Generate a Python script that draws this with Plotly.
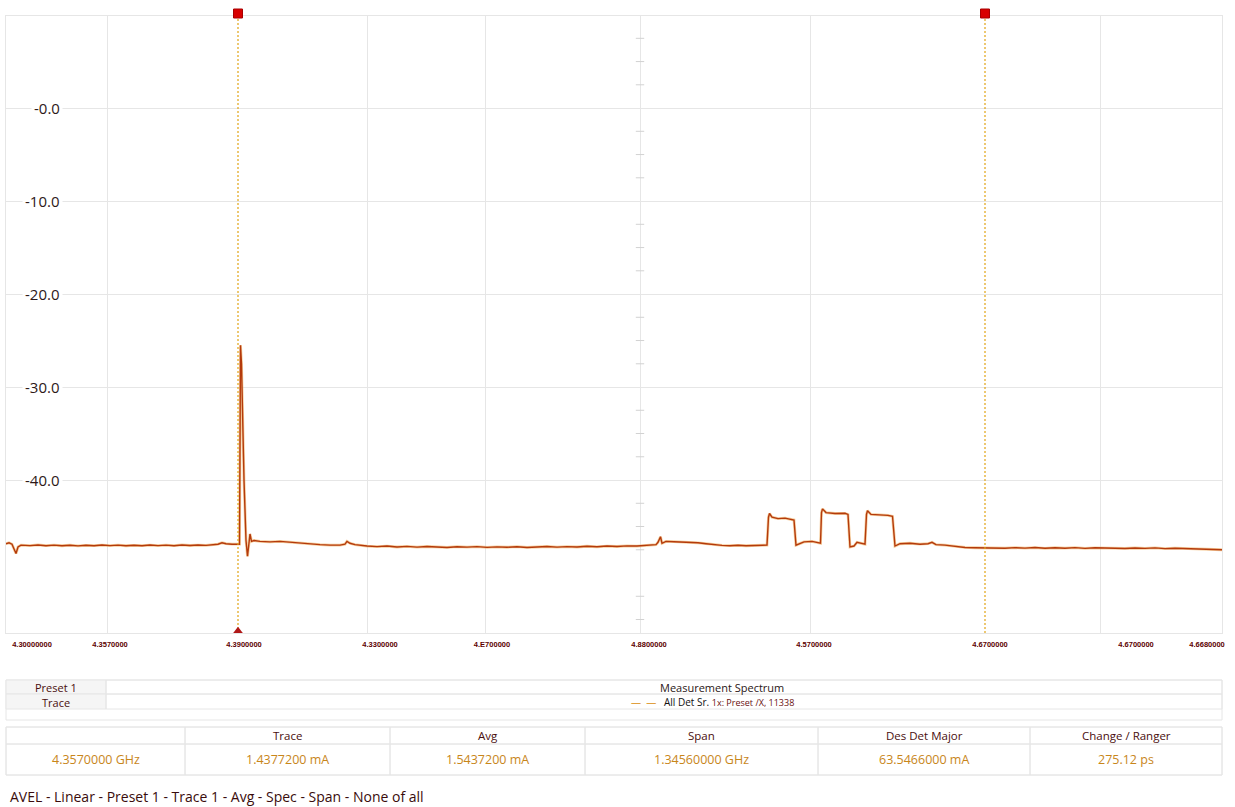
import plotly.graph_objects as go

# ---- spectrum trace (frequency bin, level in dB), segment by segment ----
bins_left = [0, 3, 6, 8, 10, 12, 15,
             24, 32, 40, 48, 56, 64, 72, 80, 88, 96,
             104, 112, 120, 128, 136, 144, 152, 160, 168, 176,
             184, 192, 200, 206, 212, 216, 220, 226, 231, 233]
db_left = [-46.85, -46.75, -46.9, -47.5, -47.9, -47.2, -47.0,
           -47.05, -46.98, -47.06, -47.0, -47.07, -47.01, -47.08, -47.02, -47.06, -46.99,
           -47.05, -47.0, -47.07, -47.02, -47.06, -46.99, -47.05, -47.0, -47.06, -46.98,
           -47.04, -46.99, -47.03, -46.96, -46.9, -46.75, -46.85, -46.9, -46.95, -46.9]

bins_spike = [233.5, 234.5, 235.5, 238, 240, 241.5, 243, 244, 245.5, 248,
              254, 264, 274, 284, 294, 304, 314, 324, 334, 339,
              341, 344, 349]
db_spike = [-46.9, -25.5, -27.5, -40.0, -46.5, -48.2, -47.0, -45.8, -46.6, -46.5,
            -46.6, -46.65, -46.6, -46.7, -46.75, -46.85, -46.95, -47.0, -47.0, -46.9,
            -46.6, -46.8, -46.95]

bins_mid = [361, 371, 381, 391, 401, 411, 421, 431, 441, 451,
            461, 471, 481, 491, 501, 511, 521, 531, 541, 551,
            561, 571, 581, 591, 601, 611, 621, 631, 641]
db_mid = [-47.1, -47.16, -47.1, -47.2, -47.14, -47.22, -47.15, -47.2, -47.25, -47.17,
          -47.22, -47.16, -47.24, -47.19, -47.23, -47.17, -47.25, -47.2, -47.15, -47.22,
          -47.16, -47.2, -47.12, -47.18, -47.1, -47.15, -47.08, -47.1, -47.02]

bins_bursts = [646, 650, 652, 654.5, 656, 660, 668, 676, 684, 692,
               700, 708, 716, 724, 732, 740, 748, 754, 761, 762.5,
               763.5, 766, 772, 779, 786, 788, 790, 794, 798, 806,
               813, 814.5, 815.5, 816.5, 820, 829, 839, 842, 844, 848,
               851, 854, 859, 860.5, 861.5, 865, 874, 882, 886.5, 889,
               894, 904, 914, 922, 926, 930, 939, 949, 959, 969]
db_bursts = [-47.0, -46.95, -46.7, -46.1, -46.8, -46.6, -46.63, -46.66, -46.7, -46.75,
             -46.85, -46.95, -47.03, -47.06, -47.02, -47.07, -47.03, -47.0, -47.0, -44.0,
             -43.6, -44.0, -44.15, -44.1, -44.22, -44.3, -47.0, -46.8, -46.65, -46.6,
             -46.7, -46.8, -43.5, -43.1, -43.5, -43.6, -43.58, -43.7, -47.2, -47.1,
             -46.7, -46.8, -46.9, -43.7, -43.3, -43.7, -43.75, -43.8, -43.9, -47.1,
             -46.85, -46.8, -46.9, -46.85, -46.7, -46.95, -47.0, -47.15, -47.25, -47.28]

bins_right = [979, 989, 999, 1009, 1019, 1029, 1039, 1049, 1059, 1069,
              1079, 1089, 1099, 1109, 1119, 1129, 1139, 1149, 1159, 1169,
              1179, 1189, 1199, 1209, 1216]
db_right = [-47.3, -47.25, -47.33, -47.27, -47.32, -47.26, -47.34, -47.28, -47.33, -47.27,
            -47.35, -47.29, -47.33, -47.3, -47.36, -47.31, -47.35, -47.3, -47.38, -47.33,
            -47.37, -47.41, -47.38, -47.45, -47.5]

freq_bin = bins_left + bins_spike + bins_mid + bins_bursts + bins_right
level_db = db_left + db_spike + db_mid + db_bursts + db_right

# ---- axes ----
x_range = [0, 1216]
y_range = [-56.45, 9.9]
x_tick_bins = [26, 104, 238, 374, 486, 643, 808, 984, 1130, 1201]
x_tick_labels = ["4.30000000", "4.3570000", "4.3900000", "4.3300000", "4.E700000",
                 "4.8800000", "4.5700000", "4.6700000", "4.6700000", "4.6680000"]
x_grid_bins = [101, 361, 479, 804, 1094]
center_bin = 634
y_tick_vals = [0, -10, -20, -30, -40]
y_tick_labels = ["-0.0", "-10.0", "-20.0", "-30.0", "-40.0"]
center_tick_db = [7.5, 5, 2.5, -2.5, -5, -7.5, -12.5, -15, -17.5, -22.5, -25, -27.5,
                  -32.5, -35, -37.5, -42.5, -45, -47.5, -52.5, -55]

# ---- markers ----
marker_bins = [232, 979]
marker_foot_db = -56.25

# ---- readout tables ----
info_labels = ["Preset 1", "Trace"]
info_title = "Measurement Spectrum"
info_trace = "All Det Sr."
info_trace_detail = "1x: Preset /X, 11338"
readout_headers = ["", "Trace", "Avg", "Span", "Des Det Major", "Change / Ranger"]
readout_values = ["4.3570000 GHz", "1.4377200 mA", "1.5437200 mA", "1.34560000 GHz",
                  "63.5466000 mA", "275.12 ps"]
status_line = "AVEL - Linear - Preset 1 - Trace 1 - Avg - Spec - Span - None of all"

W, H = 1235, 807
PL, PR, PT, PB = 6, 1222, 16, 633
GRID = "#e6e6e6"
MAROON = "#4a0e0e"
AMBER = "#c8861a"
FONT = "Open Sans"


def px(x):
    return (x - PL) / (PR - PL)


def py(y):
    return (PB - y) / (PB - PT)


fig = go.Figure()

# center axis tick marks
fig.add_trace(go.Scatter(
    x=[center_bin] * len(center_tick_db), y=center_tick_db, mode="markers",
    marker=dict(symbol="line-ew", size=6, line=dict(color="#d2d2d2", width=1)),
    hoverinfo="skip", showlegend=False))

# spectrum trace: soft amber halo under a rust-red core
fig.add_trace(go.Scatter(
    x=freq_bin, y=level_db, mode="lines",
    line=dict(color="#f0a850", width=2.8), opacity=0.55,
    hoverinfo="skip", showlegend=False))
fig.add_trace(go.Scatter(
    x=freq_bin, y=level_db, mode="lines",
    line=dict(color="#b43a0c", width=1.4),
    showlegend=False))

# marker lines
for mb in marker_bins:
    fig.add_trace(go.Scatter(
        x=[mb, mb], y=y_range, mode="lines",
        line=dict(color="#e2a414", width=1.2, dash="2px,2px"),
        hoverinfo="skip", showlegend=False))

fig.add_trace(go.Scatter(
    x=[marker_bins[0]], y=[marker_foot_db], mode="markers",
    marker=dict(symbol="triangle-up", size=9, color="#b01818"),
    cliponaxis=False, hoverinfo="skip", showlegend=False))

fig.update_xaxes(
    range=x_range, tickmode="array", tickvals=x_tick_bins, ticktext=x_tick_labels,
    showgrid=False, zeroline=False, ticks="", ticklabelstandoff=4,
    tickfont=dict(family="Liberation Sans", size=7.5, color="#5c0000", weight="bold"),
    showline=True, linecolor=GRID, mirror=True,
    minor=dict(tickmode="array", tickvals=x_grid_bins + [center_bin], showgrid=True,
               gridcolor=GRID, gridwidth=1, ticks=""))
fig.update_yaxes(
    range=y_range, tickmode="array", tickvals=y_tick_vals, showticklabels=False,
    showgrid=True, gridcolor=GRID, zeroline=False,
    showline=True, linecolor=GRID, mirror=True)

annotations = []
for v, t in zip(y_tick_vals, y_tick_labels):
    annotations.append(dict(
        x=px(63), xref="paper", y=v, yref="y", text=t, showarrow=False,
        xanchor="right", yanchor="middle", bgcolor="white", borderpad=2,
        font=dict(family=FONT, size=15, color="#2d1818")))

shapes = []

# marker handles above the plot frame
for mb in marker_bins:
    shapes.append(dict(type="rect", xref="x", yref="paper",
                       x0=mb - 4.5, x1=mb + 4.5, y0=py(18), y1=py(9),
                       fillcolor="#d80000", line=dict(color="#a80000", width=1),
                       layer="above"))


def box(x0, y0, x1, y1, fill="rgba(0,0,0,0)", line=GRID):
    shapes.append(dict(type="rect", xref="paper", yref="paper",
                       x0=px(x0), x1=px(x1), y0=py(y1), y1=py(y0),
                       fillcolor=fill, line=dict(color=line, width=1), layer="below"))


def label(x, y, text, color, size, anchor="center"):
    annotations.append(dict(x=px(x), xref="paper", y=py(y), yref="paper", text=text,
                            showarrow=False, xanchor=anchor, yanchor="middle",
                            font=dict(family=FONT, size=size, color=color)))


# info table
box(6, 680, 1222, 720, fill="white")
box(6, 680, 106, 694, fill="#f5f5f5")
box(6, 694, 106, 709, fill="#f5f5f5")
box(106, 680, 1222, 694)
box(106, 694, 1222, 709)
label(56, 687, info_labels[0], MAROON, 11)
label(56, 702, info_labels[1], MAROON, 11)
label(722, 687, info_title, "#2a1515", 11)
label(712, 702,
      "<span style='color:#e0a040'>—  —</span>   " + info_trace +
      " <span style='color:#6a1010;font-size:9px'>" + info_trace_detail + "</span>",
      "#111111", 10)

# readout table
col_edges = [6, 185, 390, 585, 818, 1030, 1222]
box(6, 727, 1222, 775, fill="white")
for i in range(len(readout_headers)):
    a, b = col_edges[i], col_edges[i + 1]
    box(a, 727, b, 744)
    box(a, 744, b, 775)
    if readout_headers[i]:
        label((a + b) / 2, 735.5, readout_headers[i], MAROON, 11.5)
    label((a + b) / 2, 759.5, readout_values[i], AMBER, 12.5)

label(8, 797, status_line, "#3a0c0c", 14, anchor="left")

fig.update_layout(
    width=W, height=H, autosize=False,
    margin=dict(l=PL, r=W - PR, t=PT, b=H - PB),
    paper_bgcolor="white", plot_bgcolor="white",
    annotations=annotations, shapes=shapes, showlegend=False)

fig.write_html("out.html")
